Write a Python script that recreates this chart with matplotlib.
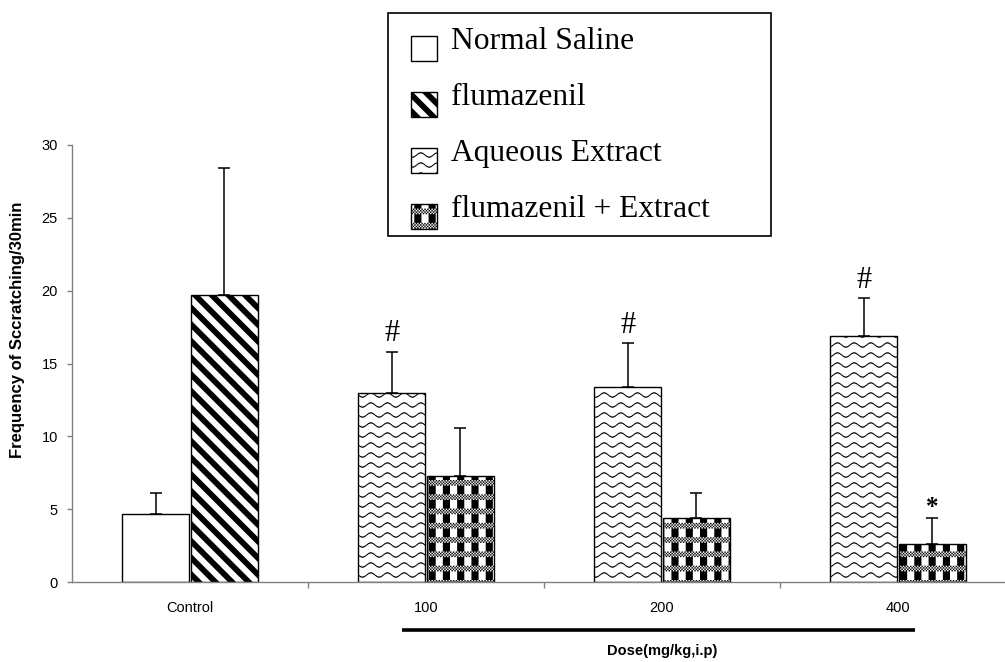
import numpy as np
import matplotlib

matplotlib.use("Agg")
import matplotlib.pyplot as plt
import matplotlib.hatch as mhatch
from matplotlib.path import Path
from matplotlib.patches import Rectangle
from matplotlib.legend_handler import HandlerPatch
from matplotlib.transforms import blended_transform_factory

# data
categories = ["Control", "100", "200", "400"]
saline_mean = [4.7]
saline_err = [1.4]
fluma_mean = [19.7]
fluma_err = [8.7]
aqueous_mean = [13.0, 13.4, 16.9]
aqueous_err = [2.8, 3.0, 2.6]
combo_mean = [7.3, 4.4, 2.6]
combo_err = [3.3, 1.7, 1.8]
aqueous_marks = ["#", "#", "#"]
combo_marks = ["", "", "*"]


# --- Excel-like fill patterns as custom hatches (all drawn as filled polygons)
def _rect(x0, y0, w, h):
    return [(x0, y0), (x0 + w, y0), (x0 + w, y0 + h), (x0, y0 + h), (x0, y0)]


def fill_polys(polys, vertices, codes):
    i = 0
    for p in polys:
        n = len(p)
        vertices[i:i + n] = p
        codes[i] = Path.MOVETO
        codes[i + 1:i + n - 1] = Path.LINETO
        codes[i + n - 1] = Path.CLOSEPOLY
        i += n


class StripeHatch(mhatch.HatchPatternBase):
    """thick '\\' stripes"""
    def __init__(self, hatch, density):
        self.polys = []
        if hatch.count("\\"):
            h = 0.041
            for k in range(-2, 15):
                c = k / 6
                x0, x1 = -0.3, 1.3
                self.polys.append([(x0, -x0 + c - h), (x1, -x1 + c - h),
                                   (x1, -x1 + c + h), (x0, -x0 + c + h),
                                   (x0, -x0 + c - h)])
        self.num_vertices = sum(len(p) for p in self.polys)

    def set_vertices_and_codes(self, vertices, codes):
        fill_polys(self.polys, vertices, codes)


class WaveHatch(mhatch.HatchPatternBase):
    """rows of small waves"""
    def __init__(self, hatch, density):
        self.polys = []
        if hatch.count("o"):
            xs = np.linspace(-1 / 6, 7 / 6, 8 * 10 + 1)
            amp, t = 0.022, 0.013
            for j in range(10):
                yc = (j + 0.5) / 10
                wave = yc + amp * np.sin(2 * np.pi * 6 * xs)
                up = list(zip(xs, wave + t / 2))
                lo = list(zip(xs[::-1], wave[::-1] - t / 2))
                self.polys.append(up + lo + [up[0]])
        self.num_vertices = sum(len(p) for p in self.polys)

    def set_vertices_and_codes(self, vertices, codes):
        fill_polys(self.polys, vertices, codes)


class PlaidHatch(mhatch.HatchPatternBase):
    """black blocks between grey dotted bands"""
    def __init__(self, hatch, density):
        self.polys = []
        if hatch.count("O"):
            n = 7
            cell = 1 / n
            s = cell / 10
            for i in range(n):
                for j in range(n):
                    x0, y0 = i * cell, j * cell
                    self.polys.append(_rect(x0, y0 + 4 * s, cell / 2, cell - 4 * s))
                    for r in range(4):
                        for q in range(10):
                            if (q + r) % 2 == 0:
                                self.polys.append(_rect(x0 + q * s, y0 + r * s, s, s))
        self.num_vertices = sum(len(p) for p in self.polys)

    def set_vertices_and_codes(self, vertices, codes):
        fill_polys(self.polys, vertices, codes)


mhatch._hatch_types = [StripeHatch, WaveHatch, PlaidHatch]

plt.rcParams["font.family"] = ["Liberation Sans", "DejaVu Sans"]
plt.rcParams["hatch.linewidth"] = 0.0

fig = plt.figure(figsize=(10.05, 6.62), dpi=100)
ax = fig.add_axes([72 / 1005, 80 / 662, 933 / 1005, 437 / 662])

x = np.arange(len(categories))
off, width = 0.145, 0.285
dose_x = x[1:]

bar_kw = dict(width=width, edgecolor="black", linewidth=1.0, zorder=2)
b_sal = ax.bar(x[:1] - off, saline_mean, color="white", label="Normal Saline", **bar_kw)
b_flu = ax.bar(x[:1] + off, fluma_mean, color="white", hatch="\\", label="flumazenil", **bar_kw)
b_aq = ax.bar(dose_x - off, aqueous_mean, color="white", hatch="o", label="Aqueous Extract", **bar_kw)
b_co = ax.bar(dose_x + off, combo_mean, color="white", hatch="O", label="flumazenil + Extract", **bar_kw)

err_kw = dict(fmt="none", ecolor="black", elinewidth=1.1, capsize=4.3, capthick=1.1, zorder=3)
for xs, m, e in [(x[:1] - off, saline_mean, saline_err),
                 (x[:1] + off, fluma_mean, fluma_err),
                 (dose_x - off, aqueous_mean, aqueous_err),
                 (dose_x + off, combo_mean, combo_err)]:
    ax.errorbar(xs, m, yerr=[np.zeros(len(e)), e], **err_kw)

for xi, m, e, t in zip(dose_x - off, aqueous_mean, aqueous_err, aqueous_marks):
    if t:
        ax.annotate(t, (xi, m + e), xytext=(0, 7.5), textcoords="offset points",
                    ha="center", va="baseline", fontsize=22, family="Liberation Serif")
for xi, m, e, t in zip(dose_x + off, combo_mean, combo_err, combo_marks):
    if t:
        ax.annotate(t, (xi, m + e), xytext=(0, 3), textcoords="offset points",
                    ha="center", va="baseline", fontsize=18, family="Liberation Serif",
                    fontweight="bold")

ax.set_ylim(0, 30)
ax.set_xlim(-0.5, -0.5 + 933 / 236)
ax.set_yticks(np.arange(0, 31, 5))
ax.set_xticks(x)
ax.set_xticklabels(categories)
ax.set_xticks(x[:-1] + 0.5, minor=True)

for side in ("top", "right"):
    ax.spines[side].set_visible(False)
for side in ("left", "bottom"):
    ax.spines[side].set_color("#808080")
    ax.spines[side].set_linewidth(1.0)

ax.tick_params(axis="y", direction="out", length=3.6, width=1.0, color="#808080",
               pad=6.5, labelsize=10.5)
ax.tick_params(axis="x", which="major", length=0, pad=14, labelsize=10.5)
ax.tick_params(axis="x", which="minor", direction="out", length=4.5, width=1.0, color="#808080")

ax.set_ylabel("Frequency of Sccratching/30min", fontsize=12, fontweight="bold")
ax.yaxis.set_label_coords(-47 / 933, 0.577)

# dose bracket under the x axis
trans = blended_transform_factory(ax.transData, ax.transAxes)
ax.plot([dose_x[0] - 0.1, dose_x[-1] + 0.07], [-0.11, -0.11], color="black", lw=2.6,
        transform=trans, clip_on=False, solid_capstyle="butt")
ax.text(dose_x.mean(), -0.158, "Dose(mg/kg,i.p)", transform=trans, ha="center",
        va="center", fontsize=10.5, fontweight="bold")


def low_patch(legend, orig_handle, xdescent, ydescent, width, height, fontsize):
    # square handle sitting low, a bit in from the left
    return Rectangle((-xdescent + 0.35 * fontsize, -ydescent - 0.34 * fontsize),
                     0.825 * fontsize, height)


handles = [b_sal.patches[0], b_flu.patches[0], b_aq.patches[0], b_co.patches[0]]
leg = ax.legend(handles, [h.get_label() for h in (b_sal, b_flu, b_aq, b_co)],
                loc="upper left", mode="expand",
                bbox_to_anchor=(388 / 1005, 1 - 236 / 662, 383 / 1005, 223 / 662),
                bbox_transform=fig.transFigure, borderaxespad=0,
                prop={"family": "Liberation Serif", "size": 22.7},
                handlelength=1.17, handleheight=0.85, handletextpad=0.44,
                borderpad=0.39, labelspacing=0.81, fancybox=False, framealpha=1,
                edgecolor="black", handler_map={Rectangle: HandlerPatch(patch_func=low_patch)})
leg.get_frame().set_linewidth(1.2)

fig.savefig("out.png", dpi=100)
